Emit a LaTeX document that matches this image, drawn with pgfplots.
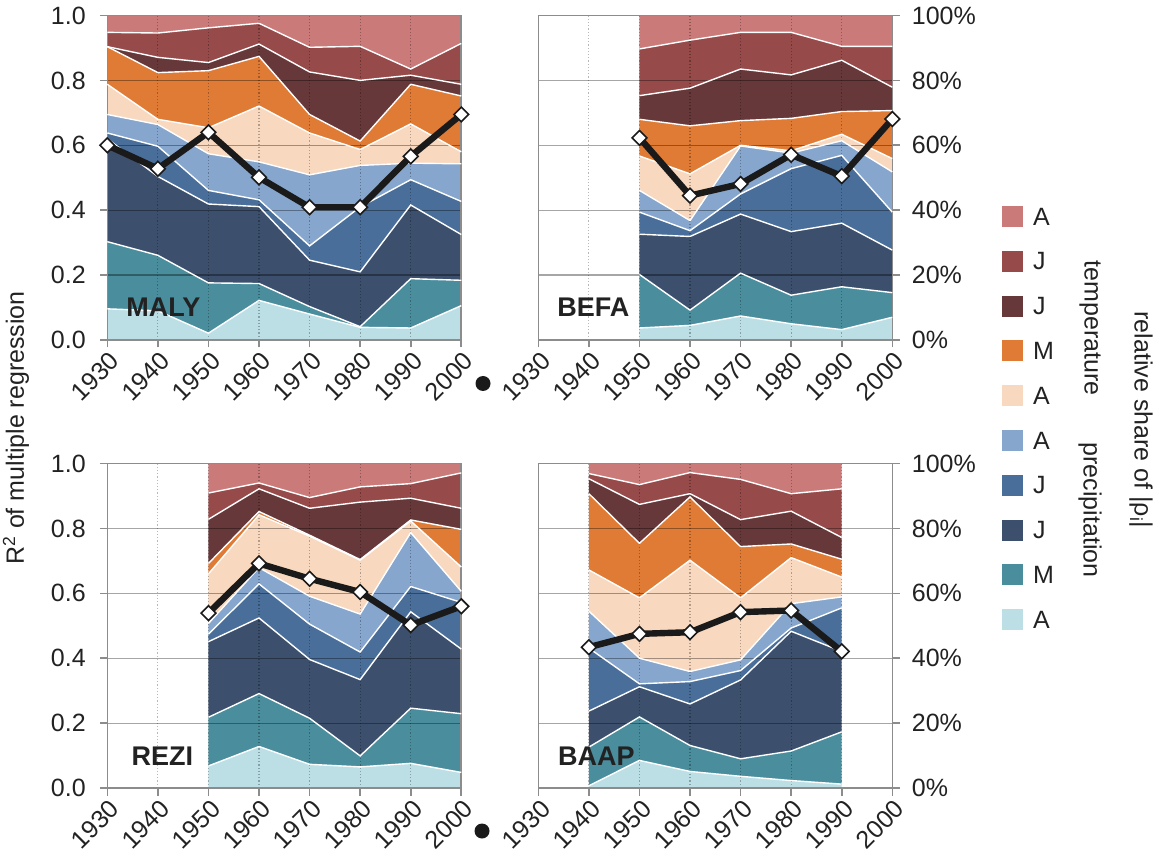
\documentclass[border=0pt]{standalone}
\usepackage{fontspec}
\setmainfont{Liberation Sans}
\usepackage{pgfplots}
\pgfplotsset{compat=1.18}
\usepackage{pgfplotstable}
\usepgfplotslibrary{fillbetween}

\definecolor{cT1}{HTML}{CB7A7A}
\definecolor{cT2}{HTML}{964A4A}
\definecolor{cT3}{HTML}{67383A}
\definecolor{cT4}{HTML}{E07B35}
\definecolor{cT5}{HTML}{F8D8BE}
\definecolor{cP1}{HTML}{86A6CD}
\definecolor{cP2}{HTML}{4A6E9A}
\definecolor{cP3}{HTML}{3C506E}
\definecolor{cP4}{HTML}{4A8E9E}
\definecolor{cP5}{HTML}{BCDFE6}
\definecolor{axc}{RGB}{140,140,140}
\definecolor{txt}{HTML}{222222}
\definecolor{rl}{HTML}{1A1A1A}

\pgfplotstableread{
year b0 b1 b2 b3 b4 b5 b6 b7 b8 b9 b10 r
1930 0 0.096 0.303 0.620 0.638 0.695 0.788 0.904 0.904 0.948 1 0.600
1940 0 0.090 0.261 0.504 0.597 0.664 0.680 0.824 0.871 0.946 1 0.528
1950 0 0.021 0.176 0.419 0.461 0.574 0.654 0.830 0.855 0.962 1 0.640
1960 0 0.122 0.174 0.411 0.432 0.549 0.721 0.874 0.912 0.976 1 0.501
1970 0 0.080 0.103 0.246 0.290 0.509 0.638 0.695 0.826 0.902 1 0.409
1980 0 0.039 0.041 0.210 0.410 0.538 0.587 0.613 0.800 0.905 1 0.409
1990 0 0.037 0.189 0.416 0.494 0.545 0.666 0.788 0.816 0.835 1 0.566
2000 0 0.106 0.184 0.325 0.427 0.543 0.580 0.752 0.788 0.914 1 0.695
}\maly

\pgfplotstableread{
year b0 b1 b2 b3 b4 b5 b6 b7 b8 b9 b10 r
1950 0 0.037 0.202 0.326 0.394 0.461 0.567 0.680 0.753 0.897 1 0.623
1960 0 0.045 0.092 0.319 0.337 0.368 0.512 0.660 0.776 0.924 1 0.445
1970 0 0.074 0.206 0.388 0.450 0.598 0.600 0.676 0.835 0.948 1 0.481
1980 0 0.050 0.138 0.334 0.528 0.576 0.583 0.683 0.817 0.948 1 0.571
1990 0 0.032 0.164 0.360 0.569 0.614 0.634 0.704 0.862 0.905 1 0.505
2000 0 0.070 0.146 0.277 0.394 0.518 0.559 0.707 0.779 0.905 1 0.681
}\befa

\pgfplotstableread{
year b0 b1 b2 b3 b4 b5 b6 b7 b8 b9 b10 r
1950 0 0.068 0.218 0.451 0.474 0.507 0.660 0.692 0.828 0.909 1 0.539
1960 0 0.128 0.291 0.524 0.629 0.679 0.842 0.852 0.922 0.940 1 0.692
1970 0 0.073 0.215 0.396 0.505 0.591 0.776 0.779 0.862 0.895 1 0.645
1980 0 0.065 0.099 0.334 0.419 0.536 0.702 0.704 0.881 0.928 1 0.604
1990 0 0.076 0.246 0.543 0.621 0.787 0.823 0.826 0.893 0.938 1 0.502
2000 0 0.048 0.229 0.428 0.572 0.606 0.681 0.797 0.862 0.971 1 0.560
}\rezi

\pgfplotstableread{
year b0 b1 b2 b3 b4 b5 b6 b7 b8 b9 b10 r
1940 0 0.007 0.126 0.237 0.431 0.545 0.672 0.907 0.953 0.969 1 0.434
1950 0 0.085 0.219 0.312 0.321 0.400 0.586 0.754 0.874 0.935 1 0.475
1960 0 0.051 0.131 0.259 0.328 0.359 0.702 0.897 0.907 0.972 1 0.480
1970 0 0.036 0.090 0.333 0.362 0.395 0.586 0.744 0.827 0.951 1 0.542
1980 0 0.023 0.114 0.483 0.493 0.568 0.710 0.752 0.853 0.907 1 0.547
1990 0 0.012 0.173 0.421 0.555 0.589 0.650 0.705 0.772 0.922 1 0.421
}\baap

\newcommand{\stackpanel}[2]{%
 \addplot[draw=none, name path=#2a] table[x=year,y=b0]{#1};
 \addplot[draw=none, name path=#2b] table[x=year,y=b1]{#1};
 \addplot[draw=none, name path=#2c] table[x=year,y=b2]{#1};
 \addplot[draw=none, name path=#2d] table[x=year,y=b3]{#1};
 \addplot[draw=none, name path=#2e] table[x=year,y=b4]{#1};
 \addplot[draw=none, name path=#2f] table[x=year,y=b5]{#1};
 \addplot[draw=none, name path=#2g] table[x=year,y=b6]{#1};
 \addplot[draw=none, name path=#2h] table[x=year,y=b7]{#1};
 \addplot[draw=none, name path=#2i] table[x=year,y=b8]{#1};
 \addplot[draw=none, name path=#2j] table[x=year,y=b9]{#1};
 \addplot[draw=none, name path=#2k] table[x=year,y=b10]{#1};
 \addplot[fill=cP5, draw=none] fill between[of=#2a and #2b, on layer=axis background];
 \addplot[fill=cP4, draw=none] fill between[of=#2b and #2c, on layer=axis background];
 \addplot[fill=cP3, draw=none] fill between[of=#2c and #2d, on layer=axis background];
 \addplot[fill=cP2, draw=none] fill between[of=#2d and #2e, on layer=axis background];
 \addplot[fill=cP1, draw=none] fill between[of=#2e and #2f, on layer=axis background];
 \addplot[fill=cT5, draw=none] fill between[of=#2f and #2g, on layer=axis background];
 \addplot[fill=cT4, draw=none] fill between[of=#2g and #2h, on layer=axis background];
 \addplot[fill=cT3, draw=none] fill between[of=#2h and #2i, on layer=axis background];
 \addplot[fill=cT2, draw=none] fill between[of=#2i and #2j, on layer=axis background];
 \addplot[fill=cT1, draw=none] fill between[of=#2j and #2k, on layer=axis background];
 \addplot[white, line width=0.7pt] table[x=year,y=b1]{#1};
 \addplot[white, line width=0.7pt] table[x=year,y=b2]{#1};
 \addplot[white, line width=0.7pt] table[x=year,y=b3]{#1};
 \addplot[white, line width=0.7pt] table[x=year,y=b4]{#1};
 \addplot[white, line width=0.7pt] table[x=year,y=b5]{#1};
 \addplot[white, line width=0.7pt] table[x=year,y=b6]{#1};
 \addplot[white, line width=0.7pt] table[x=year,y=b7]{#1};
 \addplot[white, line width=0.7pt] table[x=year,y=b8]{#1};
 \addplot[white, line width=0.7pt] table[x=year,y=b9]{#1};
 \addplot[rl, line width=3.2pt, mark=square*, mark size=2.6pt,
   mark options={rotate=45, fill=white, draw=rl, line width=0.8pt}] table[x=year,y=r]{#1};
}

\pgfplotsset{
 panel/.style={
  set layers,
  width=177pt, height=162.25pt, scale only axis,
  xmin=1930, xmax=2000, ymin=0, ymax=1,
  xtick={1930,1940,1950,1960,1970,1980,1990,2000},
  xticklabels={1930,1940,1950,1960,1970,1980,1990,2000},
  ytick={0,0.2,0.4,0.6,0.8,1},
  xtick pos=left,
  tick align=outside,
  major tick length=3.75pt,
  axis line style={axc, line width=0.8pt},
  major tick style={axc, line width=0.8pt},
  xmajorgrids, ymajorgrids,
  x grid style={black, opacity=0.28, line width=0.6pt, densely dotted},
  y grid style={black, opacity=0.35, line width=0.6pt},
  clip=false,
  tick label style={font=\fontsize{12.5}{15}\selectfont, text=txt},
  xticklabel style={rotate=45, anchor=east, xshift=2.8pt, yshift=-6pt},
 },
 leftp/.style={ytick pos=left, yticklabels={0.0,0.2,0.4,0.6,0.8,1.0},
   yticklabel style={xshift=-3.5pt}},
 rightp/.style={ytick pos=right, yticklabel pos=right, yticklabels={0\%,20\%,40\%,60\%,80\%,100\%},
   yticklabel style={xshift=2.5pt}},
}
\tikzset{lbl/.style={font=\fontsize{13.5}{16}\selectfont\bfseries, text=txt}}

\begin{document}
\begin{tikzpicture}[x=1pt,y=1pt]
\begin{axis}[panel, leftp, at={(53.65pt,261.5pt)}, anchor=south west]
\stackpanel{\maly}{ma}
\node[lbl] at (axis cs:1941.1,0.1) {MALY};
\end{axis}
\begin{axis}[panel, rightp, at={(269.15pt,261.5pt)}, anchor=south west]
\stackpanel{\befa}{be}
\node[lbl] at (axis cs:1940.9,0.1) {BEFA};
\end{axis}
\begin{axis}[panel, leftp, at={(53.65pt,37.5pt)}, anchor=south west]
\stackpanel{\rezi}{re}
\node[lbl] at (axis cs:1940.9,0.099) {REZI};
\end{axis}
\begin{axis}[panel, rightp, at={(269.15pt,37.5pt)}, anchor=south west]
\stackpanel{\baap}{ba}
\node[lbl] at (axis cs:1941.5,0.099) {BAAP};
\end{axis}
% separators
\fill[rl] (241.5,239.75) circle (3.75);
\fill[rl] (241,16) circle (3.75);
% y label
\node[rotate=90, font=\fontsize{12.5}{15}\selectfont, text=txt] at (8,217.5) {R\textsuperscript{2} of multiple regression};
% legend
\foreach \c/\t [count=\i from 0] in {cT1/A,cT2/J,cT3/J,cT4/M,cT5/A,cP1/A,cP2/J,cP3/J,cP4/M,cP5/A}{
  \pgfmathsetmacro{\yy}{(863-(216.5+44.8*\i))*0.5}
  \fill[\c] (500.85,\yy-5.25) rectangle ++(10.5,10.5);
  \node[anchor=west, inner sep=0pt, font=\fontsize{12.5}{15}\selectfont, text=txt] at (516.35,\yy) {\t};
}
\node[rotate=-90, font=\fontsize{12.5}{15}\selectfont, text=txt] at (545,267.5) {temperature};
\node[rotate=-90, font=\fontsize{12.5}{15}\selectfont, text=txt] at (545,176.5) {precipitation};
\node[rotate=-90, font=\fontsize{12.5}{15}\selectfont, text=txt] at (570.5,221.5) {relative share of |ρ\textsubscript{i}|};
\pgfresetboundingbox
\useasboundingbox (0,0) rectangle (578,431.5);
\end{tikzpicture}
\end{document}
